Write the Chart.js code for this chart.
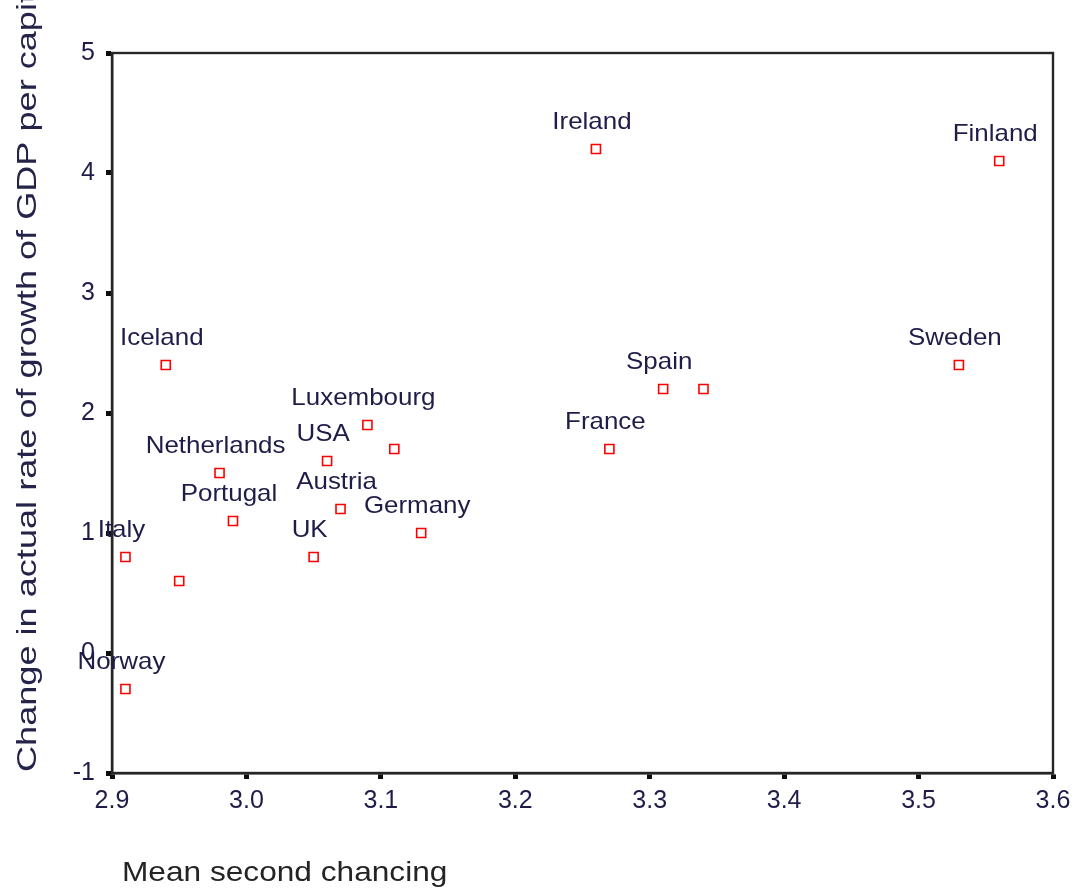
<!DOCTYPE html>
<html>
<head>
<meta charset="utf-8">
<title>Second chancing vs GDP growth</title>
<script src="https://cdn.jsdelivr.net/npm/chart.js@4.4.1/dist/chart.umd.min.js"></script>
<style>
    html, body { margin: 0; padding: 0; background: #ffffff; }
    canvas { display: block; }
</style>
</head>
<body>
<canvas id="scatterChart" width="1075" height="892"></canvas>
<script>
// Data
const countries = ['Ireland', 'Finland', 'Sweden', 'Spain', '', 'France', 'Iceland',
    'Luxembourg', '', 'USA', 'Netherlands', 'Austria', 'Portugal', 'Germany', 'UK',
    'Italy', '', 'Norway'];
const meanSecondChancing = [3.26, 3.56, 3.53, 3.31, 3.34, 3.27, 2.94,
    3.09, 3.11, 3.06, 2.98, 3.07, 2.99, 3.13, 3.05,
    2.91, 2.95, 2.91];
const gdpGrowthChange = [4.2, 4.1, 2.4, 2.2, 2.2, 1.7, 2.4,
    1.9, 1.7, 1.6, 1.5, 1.2, 1.1, 1.0, 0.8,
    0.8, 0.6, -0.3];

const xTitle = 'Mean second chancing';
const yTitle = 'Change in actual rate of growth of GDP per capita';

const FONT = 'Arial, "Liberation Sans", sans-serif';
const TEXT_COLOR = '#1f1c48';
const AXIS_COLOR = '#262626';

const points = meanSecondChancing.map((x, i) => ({ x: x, y: gdpGrowthChange[i] }));

/**
 * Frame, point labels and axis titles
 */
const decorPlugin = {
    id: 'decor',
    afterDraw(chart) {
        const ctx = chart.ctx;
        const area = chart.chartArea;
        const xs = chart.scales.x;
        const ys = chart.scales.y;

        // box around the plot
        ctx.save();
        ctx.strokeStyle = AXIS_COLOR;
        ctx.lineWidth = 2.4;
        ctx.strokeRect(area.left, area.top, area.right - area.left, area.bottom - area.top);
        ctx.restore();

        // country labels above the markers
        ctx.save();
        ctx.font = '24px ' + FONT;
        ctx.fillStyle = TEXT_COLOR;
        ctx.textAlign = 'center';
        ctx.textBaseline = 'middle';
        countries.forEach((name, i) => {
            if (!name) return;
            const px = xs.getPixelForValue(meanSecondChancing[i]);
            const py = ys.getPixelForValue(gdpGrowthChange[i]);
            ctx.save();
            ctx.translate(px - 4, py - 27);
            ctx.scale(1.08, 1);
            ctx.fillText(name, 0, 0);
            ctx.restore();
        });
        ctx.restore();

        // y title (runs off the top like the original)
        ctx.save();
        ctx.font = '28px ' + FONT;
        ctx.fillStyle = '#24244a';
        ctx.textAlign = 'left';
        ctx.textBaseline = 'alphabetic';
        ctx.translate(36, area.bottom - 1);
        ctx.rotate(-Math.PI / 2);
        ctx.scale(1.29, 1);
        ctx.fillText(yTitle, 0, 0);
        ctx.restore();

        // x title
        ctx.save();
        ctx.font = '28px ' + FONT;
        ctx.fillStyle = '#242424';
        ctx.textAlign = 'left';
        ctx.textBaseline = 'alphabetic';
        ctx.translate(122, 881);
        ctx.scale(1.13, 1);
        ctx.fillText(xTitle, 0, 0);
        ctx.restore();
    }
};

const ctx = document.getElementById('scatterChart').getContext('2d');
new Chart(ctx, {
    type: 'scatter',
    data: {
        datasets: [{
            data: points,
            pointStyle: 'rect',
            pointRadius: 6.4,
            pointHoverRadius: 6.4,
            borderWidth: 1.6,
            borderColor: '#ff0000',
            backgroundColor: '#ffffff'
        }]
    },
    options: {
        responsive: false,
        animation: false,
        clip: false,
        layout: {
            padding: { top: 53, right: 22, left: 0, bottom: 0 }
        },
        plugins: {
            legend: { display: false },
            tooltip: { enabled: false }
        },
        scales: {
            x: {
                type: 'linear',
                min: 2.9,
                max: 3.6,
                afterFit: (scale) => {
                    scale.height = 119;
                    scale.paddingLeft = 0;
                    scale.paddingRight = 0;
                },
                border: { display: true, color: AXIS_COLOR, width: 2.4 },
                grid: {
                    drawOnChartArea: false,
                    drawTicks: true,
                    tickLength: 6,
                    tickWidth: 5,
                    tickColor: '#0d0d0d'
                },
                ticks: {
                    stepSize: 0.1,
                    padding: 7,
                    color: TEXT_COLOR,
                    font: { family: FONT, size: 25 },
                    callback: (v) => Number(v).toFixed(1)
                }
            },
            y: {
                type: 'linear',
                min: -1,
                max: 5,
                afterFit: (scale) => {
                    scale.width = 112;
                    scale.paddingTop = 0;
                    scale.paddingBottom = 0;
                },
                border: { display: true, color: AXIS_COLOR, width: 2.4 },
                grid: {
                    drawOnChartArea: false,
                    drawTicks: true,
                    tickLength: 6,
                    tickWidth: 5,
                    tickColor: '#0d0d0d'
                },
                ticks: {
                    stepSize: 1,
                    padding: 11,
                    color: TEXT_COLOR,
                    font: { family: FONT, size: 25 }
                }
            }
        }
    },
    plugins: [decorPlugin]
});
</script>
</body>
</html>
